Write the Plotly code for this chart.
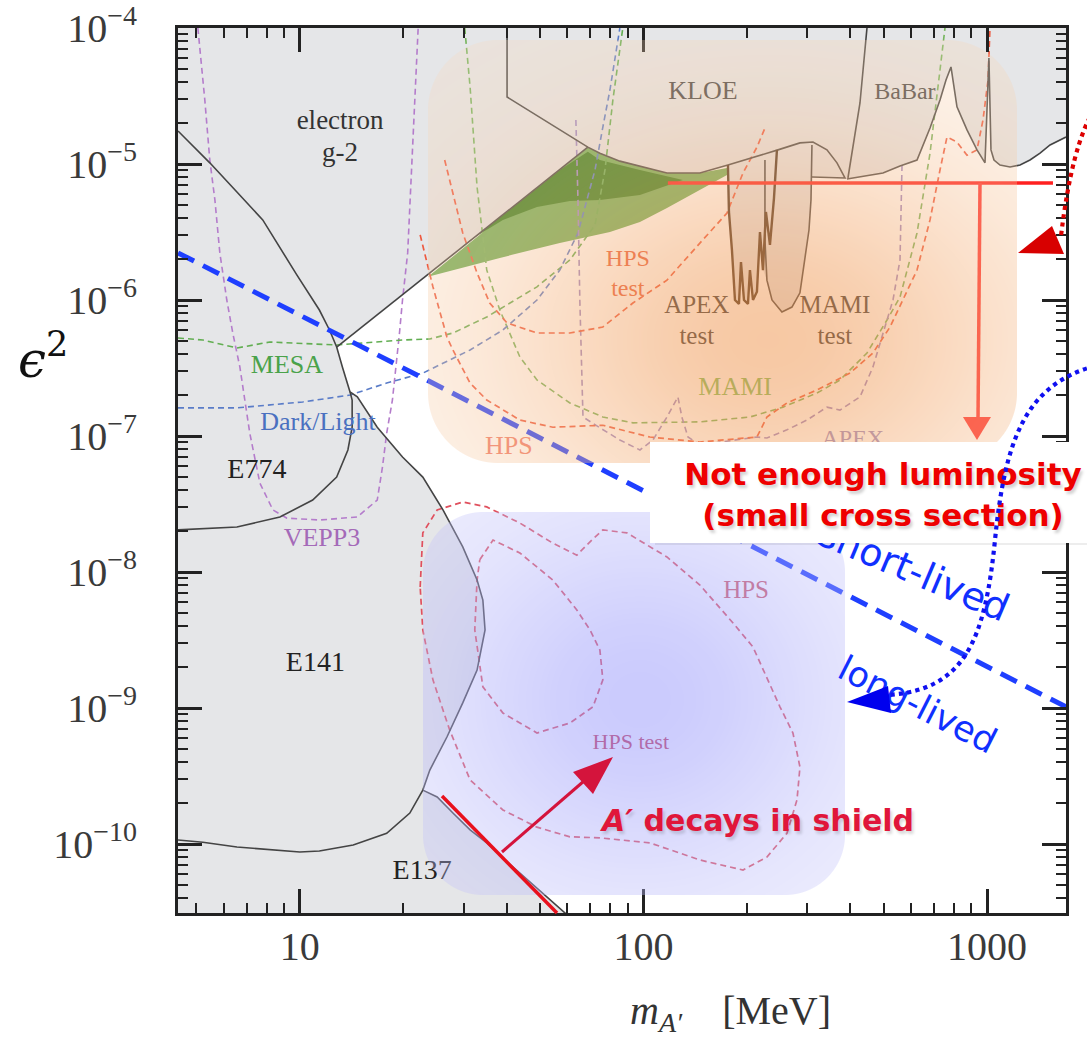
import math, zlib, struct, base64
import numpy as np
import plotly.graph_objects as go

# ---------------- axes ----------------
x_range = [4.42, 1698]          # m_A' [MeV]
y_range = [3.11e-11, 1e-4]      # eps^2
x_ticks = [10, 100, 1000]
x_tick_text = ["10", "100", "1000"]
y_ticks = [1e-4, 1e-5, 1e-6, 1e-7, 1e-8, 1e-9, 1e-10]
y_tick_text = ["10<sup>\u22124</sup>", "10<sup>\u22125</sup>", "10<sup>\u22126</sup>", "10<sup>\u22127</sup>",
               "10<sup>\u22128</sup>", "10<sup>\u22129</sup>", "10<sup>\u221210</sup>"]

# ---------------- allowed (white) region ----------------
allowed_m = [12.8, 68.9, 74.7, 85.4, 97.7, 117.1, 146.0, 176.2,
             177.4, 181.0, 184.7, 189.7, 192.3, 196.2, 201.5, 204.2, 208.4, 214.0, 218.4,
             222.8, 228.8, 236.7, 253.0, 270.6, 285.5, 293.3, 303.3, 307.4, 309.4,
             391.2, 498.1, 558.2, 625.6, 682.6, 729.8, 759.8, 785.6, 817.8, 874.5, 935.2, 986.7, 1013, 1027,
             1048, 1091, 1167, 1248, 1334, 1427, 1526, 1632, 1698,
             2000, 2000, 78.3,
             39.0, 35.0, 31.3, 27.9, 25.1, 22.8,
             23.9, 26.8, 29.8, 32.8, 34.6, 34.1, 32.8, 29.8, 26.1, 22.8, 19.9, 16.8, 14.7, 14.0, 13.3, 12.8]
allowed_eps = [4.51e-7, 1.33e-5, 1.20e-5, 1.05e-5, 9.67e-6, 8.59e-6, 8.59e-6, 9.83e-6,
               4.44e-6, 2.33e-6, 1.0e-6, 9.35e-7, 1.90e-6, 1.0e-6, 9.35e-7, 1.66e-6, 1.0e-6, 1.15e-6, 3.16e-6,
               1.66e-6, 1.40e-6, 1.0e-6, 8.16e-7, 8.88e-7, 1.13e-6, 1.81e-6, 3.27e-6, 5.44e-6, 8.02e-6,
               7.76e-6, 8.59e-6, 9.67e-6, 1.07e-5, 1.84e-5, 2.96e-5, 4.14e-5, 5.17e-5, 2.63e-5, 1.78e-5, 1.27e-5,
               1.02e-5, 6.02e-5, 1.27e-5, 1.07e-5, 9.83e-6, 9.50e-6, 9.83e-6, 1.07e-5, 1.20e-5, 1.38e-5, 1.50e-5, 1.58e-5,
               1.58e-5, 1.66e-11, 1.66e-11,
               7.89e-11, 1.02e-10, 1.27e-10, 1.69e-10, 2.22e-10, 2.49e-10,
               3.50e-10, 6.12e-10, 1.09e-9, 1.90e-9, 3.75e-9, 6.22e-9, 8.73e-9, 1.53e-8, 2.86e-8, 4.99e-8, 7.01e-8,
               1.16e-7, 1.94e-7, 2.11e-7, 3.22e-7, 4.51e-7]

# ---------------- a_mu favoured band ----------------
amu_outer_m = [23.6, 68.9, 74.7, 85.4, 97.7, 117.1, 146.0, 175.1, 175.1, 146.0, 117.1, 97.7, 79.9, 57.1, 38.2, 23.6]
amu_outer_eps = [1.48e-6, 1.33e-5, 1.20e-5, 1.05e-5, 9.67e-6, 8.59e-6, 8.59e-6, 9.35e-6, 8.30e-6, 6.44e-6,
                 4.75e-6, 3.75e-6, 3.16e-6, 2.62e-6, 2.04e-6, 1.48e-6]
amu_inner_m = [29.2, 57.1, 68.9, 74.7, 97.7, 130.3, 97.7, 74.7, 61.1, 49.0, 39.0, 31.3, 29.2]
amu_inner_eps = [2.37e-6, 9.04e-6, 1.23e-5, 1.07e-5, 9.04e-6, 7.63e-6, 5.92e-6, 5.44e-6, 5.35e-6, 4.83e-6,
                 3.88e-6, 2.76e-6, 2.37e-6]

# ---------------- existing limits (solid) ----------------
g2_m = [4.42, 5.47, 6.56, 7.80, 9.80, 11.4, 12.2, 12.8, 13.3, 14.0]
g2_eps = [1.75e-5, 1.02e-5, 6.22e-6, 3.88e-6, 1.53e-6, 8.44e-7, 6.02e-7, 4.51e-7, 3.22e-7, 2.11e-7]
combo_m = [12.8, 68.9]
combo_eps = [4.51e-7, 1.33e-5]
kloe_m = [40.1, 40.1, 68.9, 74.7, 85.4, 97.7, 117.1, 146.0, 176.2, 246.4, 285.5, 311.5, 342.1, 365.9, 386.0, 309.4]
kloe_eps = [1.2e-4, 3.11e-5, 1.33e-5, 1.20e-5, 1.05e-5, 9.67e-6, 8.59e-6, 8.59e-6, 9.83e-6, 1.27e-5, 1.43e-5,
            1.45e-5, 1.27e-5, 1.02e-5, 7.89e-6, 8.02e-6]
apex_test_m = [176.2, 177.4, 181.0, 184.7, 189.7, 192.3, 196.2, 201.5, 204.2, 208.4, 214.0, 218.4, 222.8, 227.3,
               233.5, 239.9, 244.7]
apex_test_eps = [9.83e-6, 4.44e-6, 2.33e-6, 1.0e-6, 9.35e-7, 1.90e-6, 1.0e-6, 9.35e-7, 1.66e-6, 1.0e-6, 1.15e-6,
                 3.16e-6, 1.66e-6, 4.44e-6, 2.54e-6, 5.62e-6, 1.27e-5]
mami_test_m = [225.8, 225.8, 228.8, 236.7, 253.0, 270.6, 285.5, 293.3, 303.3, 307.4, 309.4]
mami_test_eps = [1.07e-5, 2.76e-6, 1.40e-6, 1.0e-6, 8.16e-7, 8.88e-7, 1.13e-6, 1.81e-6, 3.27e-6, 5.44e-6, 1.38e-5]
babar_edge_m = [393.8, 407.3, 426.9, 450.4]
babar_edge_eps = [7.89e-6, 1.33e-5, 2.81e-5, 1.2e-4]
babar_m = [391.2, 498.1, 558.2, 625.6, 682.6, 729.8, 759.8, 785.6, 817.8, 874.5, 935.2, 986.7, 1013, 1027, 1048,
           1091, 1167, 1248, 1334, 1427, 1526, 1632, 1698]
babar_eps = [7.76e-6, 8.59e-6, 9.67e-6, 1.07e-5, 1.84e-5, 2.96e-5, 4.14e-5, 5.17e-5, 2.63e-5, 1.78e-5, 1.27e-5,
             1.02e-5, 6.02e-5, 1.27e-5, 1.07e-5, 9.83e-6, 9.50e-6, 9.83e-6, 1.07e-5, 1.20e-5, 1.38e-5, 1.50e-5, 1.58e-5]
e774_m = [4.42, 6.56, 8.75, 10.9, 12.8, 13.8, 14.2, 14.2, 14.0]
e774_eps = [2.04e-8, 2.14e-8, 2.54e-8, 3.38e-8, 4.99e-8, 7.89e-8, 1.16e-7, 1.84e-7, 2.11e-7]
e141_m = [14.0, 14.7, 16.8, 19.9, 22.8, 26.1, 29.8, 32.8, 34.1, 34.6, 32.8, 29.8, 26.8, 23.9, 22.8, 20.9, 17.9,
          14.3, 11.4, 10.0, 6.56, 5.22, 4.42]
e141_eps = [2.11e-7, 1.94e-7, 1.16e-7, 7.01e-8, 4.99e-8, 2.86e-8, 1.53e-8, 8.73e-9, 6.22e-9, 3.75e-9, 1.90e-9,
            1.09e-9, 6.12e-10, 3.50e-10, 2.49e-10, 1.69e-10, 1.20e-10, 9.83e-11, 8.88e-11, 8.73e-11, 9.50e-11,
            1.03e-10, 1.07e-10]
e137_m = [22.8, 25.1, 27.9, 31.3, 35.0, 39.0, 78.3]
e137_eps = [2.49e-10, 2.22e-10, 1.69e-10, 1.27e-10, 1.02e-10, 7.89e-11, 1.66e-11]

# ---------------- projected reaches (dashed) ----------------
vepp3_m = [5.05, 5.29, 5.47, 5.66, 5.85, 6.13, 6.38, 6.69, 7.15, 7.65, 8.35, 9.17, 11.4, 14.7, 16.8, 17.4, 17.9,
           18.6, 19.5, 19.9, 20.6, 21.3, 22.1]
vepp3_eps = [1.0e-4, 2.96e-5, 1.07e-5, 5.44e-6, 2.22e-6, 1.0e-6, 5.72e-7, 3.22e-7, 1.05e-7, 4.51e-8, 2.86e-8,
             2.49e-8, 2.41e-8, 2.54e-8, 3.38e-8, 5.92e-8, 1.05e-7, 1.84e-7, 5.72e-7, 1.0e-6, 2.22e-6, 1.20e-5, 1.0e-4]
mesa_m = [4.42, 5.22, 6.56, 8.18, 12.8, 19.9, 23.9, 27.9, 35.0, 49.0, 61.1, 72.3, 77.3, 81.5, 87.1]
mesa_eps = [5.26e-7, 5.08e-7, 4.44e-7, 4.91e-7, 4.67e-7, 5.08e-7, 5.17e-7, 5.72e-7, 7.50e-7, 1.25e-6, 1.97e-6,
            3.56e-6, 9.04e-6, 2.96e-5, 1.0e-4]
mami_m = [30.2, 31.3, 32.8, 35.0, 38.2, 43.7, 49.0, 61.1, 76.2, 93.2, 146.0, 204.2, 254.7, 320.0, 373.3, 447.4,
          511.7, 558.2, 625.6, 682.6, 729.8, 754.6]
mami_eps = [1.0e-4, 3.68e-5, 6.78e-6, 1.66e-6, 8.44e-7, 3.81e-7, 2.58e-7, 1.75e-7, 1.38e-7, 1.25e-7, 1.27e-7,
            1.38e-7, 1.63e-7, 2.07e-7, 2.58e-7, 4.08e-7, 7.13e-7, 1.05e-6, 3.11e-6, 1.20e-5, 4.91e-5, 1.0e-4]
darklight_m = [4.42, 6.56, 10.2, 14.0, 17.9, 22.8, 31.3, 39.0, 49.0, 57.1, 64.5, 72.3, 76.2, 79.9, 85.4]
darklight_eps = [1.61e-7, 1.61e-7, 1.78e-7, 2.00e-7, 2.45e-7, 2.90e-7, 4.29e-7, 6.02e-7, 1.0e-6, 1.66e-6, 3.11e-6,
                 9.04e-6, 1.87e-5, 3.50e-5, 1.0e-4]
apex_m = [63.6, 64.5, 65.3, 66.7, 74.7, 85.4, 97.7, 106.6, 117.1, 126.0, 129.4, 134.8, 146.0, 214.0, 228.8, 261.7,
          299.2, 342.1, 373.3, 426.9, 465.7, 498.1, 532.6, 558.2, 565.8]
apex_eps = [2.11e-5, 5.44e-6, 1.0e-6, 1.38e-7, 1.15e-7, 9.35e-8, 7.89e-8, 9.35e-8, 1.38e-7, 1.94e-7, 1.38e-7,
            9.83e-8, 8.59e-8, 9.83e-8, 9.67e-8, 1.11e-7, 1.31e-7, 1.63e-7, 1.55e-7, 1.94e-7, 3.22e-7, 5.72e-7,
            1.0e-6, 1.97e-6, 9.83e-6]
hps_test_m = [26.4, 27.9, 29.8, 32.8, 35.7, 40.1, 49.0, 61.1, 76.2, 93.2, 117.1, 146.0, 175.1, 194.9, 214.0, 225.8]
hps_test_eps = [1.07e-5, 6.12e-6, 3.11e-6, 1.58e-6, 9.50e-7, 6.78e-7, 5.72e-7, 5.72e-7, 6.33e-7, 9.50e-7, 1.40e-6,
                2.62e-6, 4.36e-6, 8.59e-6, 1.33e-5, 1.84e-5]
hps_m = [22.4, 24.4, 26.8, 27.9, 31.3, 35.0, 43.7, 54.5, 76.2, 104.4, 146.0, 214.0, 228.8, 261.7, 320.0, 399.2,
         465.7, 522.1, 625.6, 682.6, 729.8, 764.8, 817.8, 874.5, 935.2, 973.6, 1007, 1020]
hps_eps = [3.01e-6, 1.25e-6, 5.34e-7, 4.29e-7, 2.45e-7, 1.84e-7, 1.31e-7, 1.16e-7, 1.20e-7, 9.83e-8, 9.03e-8,
           9.83e-8, 1.38e-7, 1.75e-7, 2.18e-7, 2.90e-7, 4.08e-7, 6.33e-7, 1.66e-6, 3.88e-6, 9.04e-6, 1.58e-5,
           1.45e-5, 1.16e-5, 1.27e-5, 2.11e-5, 4.14e-5, 1.0e-4]
hps_low_m = [22.4, 22.8, 25.1, 29.8, 35.0, 43.7, 54.5, 64.0, 70.8, 76.2, 89.5, 117.1, 146.0, 182.3, 208.4, 228.8,
             249.7, 272.4, 285.5, 279.9, 261.7, 228.8, 194.9, 146.0, 104.4, 74.7, 61.1, 49.0, 39.0, 31.3, 27.3,
             24.4, 22.8, 22.4]
hps_low_eps = [7.76e-9, 1.94e-8, 2.86e-8, 3.27e-8, 3.01e-8, 2.29e-8, 1.63e-8, 1.33e-8, 1.72e-8, 2.04e-8, 1.94e-8,
               1.29e-8, 8.02e-9, 4.22e-9, 2.81e-9, 1.69e-9, 1.02e-9, 6.55e-10, 3.68e-10, 2.11e-10, 1.20e-10,
               8.02e-11, 6.44e-11, 7.63e-11, 1.02e-10, 1.11e-10, 1.13e-10, 1.33e-10, 1.78e-10, 2.96e-10, 6.89e-10,
               1.61e-9, 3.75e-9, 7.76e-9]
hps_test_low_m = [33.4, 36.5, 43.7, 54.5, 64.0, 69.9, 74.7, 76.2, 71.3, 61.1, 49.0, 39.0, 34.1, 32.3, 32.8, 33.4]
hps_test_low_eps = [1.23e-8, 1.72e-8, 1.38e-8, 8.73e-9, 5.26e-9, 3.75e-9, 2.67e-9, 1.61e-9, 1.02e-9, 7.76e-10,
                    6.55e-10, 9.19e-10, 1.43e-9, 3.75e-9, 8.73e-9, 1.23e-8]

# short-/long-lived boundary
lifetime_m = [4.42, 1698]
lifetime_eps = [2.22e-6, 1.02e-9]

# luminosity limit marker
lumi_m = [117.8, 1556]
lumi_eps = [7.25e-6, 7.25e-6]
lumi_arrow_m = [954.2, 941.6]
lumi_arrow_eps = [7.25e-6, 1.36e-7]
lumi_head_m = [851.2, 1027, 935.2, 851.2]
lumi_head_eps = [1.38e-7, 1.38e-7, 9.35e-8, 1.38e-7]

# ---------------- region labels ----------------
label_text = ["electron", "g-2", "KLOE", "BaBar", "HPS", "test", "APEX", "test", "MAMI", "test", "MESA",
              "Dark/Light", "E774", "VEPP3", "HPS", "MAMI", "APEX", "HPS", "HPS test", "E141", "E137"]
label_m = [13.1, 13.1, 149, 577, 90.1, 90.1, 143, 143, 361, 361, 9.17, 11.3, 7.50, 11.6, 40.6, 185, 407, 199, 91.9,
           11.1, 22.7]
label_eps = [2.04e-5, 1.18e-5, 3.38e-5, 3.32e-5, 1.97e-6, 1.18e-6, 8.88e-7, 5.26e-7, 8.88e-7, 5.26e-7, 3.27e-7,
             1.23e-7, 5.53e-8, 1.72e-8, 8.30e-8, 2.25e-7, 9.35e-8, 7.13e-9, 5.53e-10, 2.11e-9, 6.22e-11]
label_color = ["#333333", "#333333", "#444444", "#444444", "#e8603c", "#e8603c", "#3a3a3a", "#3a3a3a", "#3a3a3a",
               "#3a3a3a", "#4aa24a", "#4a70c0", "#222222", "#a46ab8", "#f07e6c", "#7fbf5f", "#9a8cc4", "#d05a68",
               "#c8405a", "#222222", "#222222"]
label_size = [27, 27, 26, 24, 24, 24, 25, 25, 25, 25, 26, 26, 28, 26, 26, 26, 24, 25, 22, 28, 28]

# ---------------- figure geometry ----------------
FIG_W, FIG_H = 1087, 1041
PL, PR, PT, PB = 178, 1066, 28, 913


def px(x):
    return (x - PL) / (PR - PL)


def py(y):
    return (PB - y) / (PB - PT)


def gradient_png(w, h, r, rgb_in, rgb_out, a_in, a_out, cx, cy, rx, ry):
    ys, xs = np.mgrid[0:h, 0:w].astype(float) + 0.5
    hx, hy = w / 2.0, h / 2.0
    qx = np.abs(xs - hx) - (hx - r)
    qy = np.abs(ys - hy) - (hy - r)
    d = np.sqrt(np.maximum(qx, 0) ** 2 + np.maximum(qy, 0) ** 2) + np.minimum(np.maximum(qx, qy), 0) - r
    mask = np.clip(0.5 - d, 0, 1)
    g = np.exp(-(((xs - cx) / rx) ** 2 + ((ys - cy) / ry) ** 2))
    alpha = mask * (a_out + (a_in - a_out) * g)
    img = np.zeros((h, w, 4), dtype=np.uint8)
    for c in range(3):
        img[..., c] = np.round(rgb_out[c] + (rgb_in[c] - rgb_out[c]) * g).astype(np.uint8)
    img[..., 3] = np.round(alpha * 255).astype(np.uint8)
    raw = b"".join(b"\x00" + img[i].tobytes() for i in range(h))

    def chunk(t, data):
        return struct.pack(">I", len(data)) + t + data + struct.pack(">I", zlib.crc32(t + data) & 0xffffffff)

    png = (b"\x89PNG\r\n\x1a\n" + chunk(b"IHDR", struct.pack(">IIBBBBB", w, h, 8, 6, 0, 0, 0)) +
           chunk(b"IDAT", zlib.compress(raw, 9)) + chunk(b"IEND", b""))
    return "data:image/png;base64," + base64.b64encode(png).decode()


fig = go.Figure()


def add_line(m, e, color, width=1.6, dash=None, fill=None, fillcolor=None, mode="lines"):
    fig.add_trace(go.Scatter(x=m, y=e, mode=mode, line=dict(color=color, width=width, dash=dash),
                             fill=fill, fillcolor=fillcolor, hoverinfo="skip", showlegend=False))


# allowed region and favoured band
add_line(allowed_m, allowed_eps, "rgba(0,0,0,0)", 0, fill="toself", fillcolor="#ffffff")
add_line(amu_outer_m, amu_outer_eps, "rgba(0,0,0,0)", 0, fill="toself", fillcolor="#6fb05a")
add_line(amu_inner_m, amu_inner_eps, "rgba(0,0,0,0)", 0, fill="toself", fillcolor="#35801f")

# projections
DASH = "6px,4px"
add_line(vepp3_m, vepp3_eps, "#b47ccb", 1.6, DASH)
add_line(mesa_m, mesa_eps, "#62ae52", 1.6, DASH)
add_line(mami_m, mami_eps, "#74b45c", 1.6, DASH)
add_line(darklight_m, darklight_eps, "#5a7cc8", 1.6, DASH)
add_line(apex_m, apex_eps, "#9b88c6", 1.6, DASH)
add_line(hps_test_m, hps_test_eps, "#ee5a40", 1.7, DASH)
add_line(hps_m, hps_eps, "#ee5a40", 1.7, DASH)
add_line(hps_low_m, hps_low_eps, "#e0505e", 1.7, DASH)
add_line(hps_test_low_m, hps_test_low_eps, "#e0505e", 1.7, DASH)

# existing limits
LC = "#444444"
for mm, ee in [(g2_m, g2_eps), (combo_m, combo_eps), (kloe_m, kloe_eps), (babar_edge_m, babar_edge_eps),
               (babar_m, babar_eps), (e774_m, e774_eps), (e141_m, e141_eps), (e137_m, e137_eps),
               (mami_test_m, mami_test_eps)]:
    add_line(mm, ee, LC, 1.6)
add_line(apex_test_m, apex_test_eps, "#4a3320", 2.4)

# labels
fig.add_trace(go.Scatter(x=label_m, y=label_eps, mode="text", text=label_text, textposition="middle center",
                         textfont=dict(family="Liberation Serif", size=label_size, color=label_color),
                         hoverinfo="skip", showlegend=False))

# lifetime boundary
add_line(lifetime_m, lifetime_eps, "#1f3fff", 5, "18px,10px")

# luminosity marker (under the orange overlay)
add_line(lumi_m, lumi_eps, "#ff2020", 3.5)
add_line(lumi_arrow_m, lumi_arrow_eps, "#ff3030", 3.5)
add_line(lumi_head_m, lumi_head_eps, "rgba(0,0,0,0)", 0, fill="toself", fillcolor="#ff3030")

# ---------------- overlays ----------------
orange_uri = gradient_png(589, 423, 70, (240, 150, 80), (250, 222, 195), 0.52, 0.24, 340, 300, 310, 230)
blue_uri = gradient_png(422, 383, 60, (150, 150, 250), (205, 205, 250), 0.50, 0.30, 217, 188, 220, 200)
images = [
    dict(source=orange_uri, xref="paper", yref="paper", x=px(428), y=py(40), sizex=589 / (PR - PL),
         sizey=423 / (PB - PT), xanchor="left", yanchor="top", sizing="stretch", layer="above"),
    dict(source=blue_uri, xref="paper", yref="paper", x=px(423), y=py(512), sizex=422 / (PR - PL),
         sizey=383 / (PB - PT), xanchor="left", yanchor="top", sizing="stretch", layer="above"),
]


def P(x, y):
    return f"{px(x):.5f},{py(y):.5f}"


shapes = []
# short-lived text (partly hidden by the white box)
shapes.append(dict(type="rect", xref="paper", yref="paper", x0=px(890), x1=px(940), y0=py(588), y1=py(548),
                   line=dict(width=0), fillcolor="rgba(0,0,0,0)", layer="above",
                   label=dict(text="short-lived", textangle=23, textposition="middle center",
                              font=dict(family="DejaVu Sans", size=38, color="#1030ff"))))
# white box with luminosity text
shapes.append(dict(type="rect", xref="paper", yref="paper", x0=px(650), x1=px(1116), y0=py(543), y1=py(442),
                   line=dict(width=0), fillcolor="#ffffff", layer="above",
                   label=dict(text="Not enough luminosity<br>(small cross section)", textposition="middle center",
                              font=dict(family="DejaVu Sans", size=31, color="#ee0000", weight="bold",
                                        shadow="2px 3px 3px rgba(0,0,0,0.18)"))))
shapes.append(dict(type="line", xref="paper", yref="paper", x0=px(655), x1=px(1090), y0=py(544), y1=py(544),
                   line=dict(width=2, color="rgba(0,0,0,0.07)"), layer="above"))
# long-lived text
shapes.append(dict(type="rect", xref="paper", yref="paper", x0=px(895), x1=px(943), y0=py(722), y1=py(682),
                   line=dict(width=0), fillcolor="rgba(0,0,0,0)", layer="above",
                   label=dict(text="long-lived", textangle=27, textposition="middle center",
                              font=dict(family="DejaVu Sans", size=35, color="#1030ff"))))
# blue dotted arrow
shapes.append(dict(type="path", xref="paper", yref="paper", layer="above",
                   path=f"M {P(1095,366)} C {P(1025,385)} {P(1005,440)} {P(995,540)} C {P(985,640)} {P(965,690)} {P(888,695)}",
                   line=dict(color="#1010f0", width=4.2, dash="dot")))
shapes.append(dict(type="path", xref="paper", yref="paper", layer="above",
                   path=f"M {P(847,702)} L {P(888,686)} L {P(891,713)} Z",
                   fillcolor="#0000ee", line=dict(width=0)))
# red dotted arrow
shapes.append(dict(type="path", xref="paper", yref="paper", layer="above",
                   path=f"M {P(1094,110)} Q {P(1072,145)} {P(1061,236)}",
                   line=dict(color="#dd0000", width=4.2, dash="dot")))
shapes.append(dict(type="path", xref="paper", yref="paper", layer="above",
                   path=f"M {P(1018,253)} L {P(1052,226)} L {P(1064,254)} Z",
                   fillcolor="#d80000", line=dict(width=0)))
# shield line and arrow
shapes.append(dict(type="line", xref="paper", yref="paper", x0=px(442), y0=py(796), x1=px(557), y1=py(913),
                   line=dict(color="#e8101c", width=3.5), layer="above"))
shapes.append(dict(type="line", xref="paper", yref="paper", x0=px(502), y0=py(852), x1=px(584), y1=py(781),
                   line=dict(color="#d4143c", width=3), layer="above"))
shapes.append(dict(type="path", xref="paper", yref="paper", layer="above",
                   path=f"M {P(573,772)} L {P(613,757)} L {P(593,794)} Z",
                   fillcolor="#d4143c", line=dict(width=0)))

annotations = [
    dict(xref="paper", yref="paper", x=px(757), y=py(820), xanchor="center", yanchor="middle", showarrow=False,
         text="<i>A\u2032</i> decays in shield",
         font=dict(family="DejaVu Sans", size=30, color="#e0163a", weight="bold",
                   shadow="2px 3px 3px rgba(0,0,0,0.15)")),
    dict(xref="paper", yref="paper", x=px(43), y=py(357), xanchor="center", yanchor="middle", showarrow=False,
         text="<i>\u03f5</i><sup>2</sup>", font=dict(family="DejaVu Serif", size=50, color="#111111")),
    dict(xref="paper", yref="paper", x=px(730), y=py(1013), xanchor="center", yanchor="middle", showarrow=False,
         text="<i>m</i><sub><i>A\u2032</i></sub>\u00a0\u00a0\u00a0\u00a0[MeV]",
         font=dict(family="Liberation Serif", size=40, color="#333333")),
]

x_minor = [k * 10 ** n for n in range(0, 4) for k in range(2, 10)]
y_minor = [k * 10.0 ** n for n in range(-11, -4) for k in range(2, 10)]

axis_common = dict(type="log", showgrid=False, zeroline=False, showline=True, linewidth=3, linecolor="#222222",
                   mirror="allticks", ticks="inside", ticklen=24, tickwidth=2.5, tickcolor="#222222",
                   automargin=False,
                   tickfont=dict(family="Liberation Serif", size=40, color="#3a3a3a"))

fig.update_layout(
    width=FIG_W, height=FIG_H,
    margin=dict(l=PL, r=FIG_W - PR, t=PT, b=FIG_H - PB, autoexpand=False),
    paper_bgcolor="#ffffff", plot_bgcolor="#e5e6e8",
    showlegend=False,
    xaxis=dict(range=[math.log10(x_range[0]), math.log10(x_range[1])], tickmode="array", tickvals=x_ticks,
               ticktext=x_tick_text, ticklabelstandoff=-4,
               minor=dict(ticks="inside", ticklen=10, tickwidth=2, tickcolor="#222222", tickmode="array",
                          tickvals=x_minor),
               **axis_common),
    yaxis=dict(range=[math.log10(y_range[0]), math.log10(y_range[1])], tickmode="array", tickvals=y_ticks,
               ticktext=y_tick_text, ticklabelstandoff=30,
               minor=dict(ticks="inside", ticklen=10, tickwidth=2, tickcolor="#222222", tickmode="array",
                          tickvals=y_minor),
               **axis_common),
    images=images, shapes=shapes, annotations=annotations,
)

fig.write_html("out.html")
